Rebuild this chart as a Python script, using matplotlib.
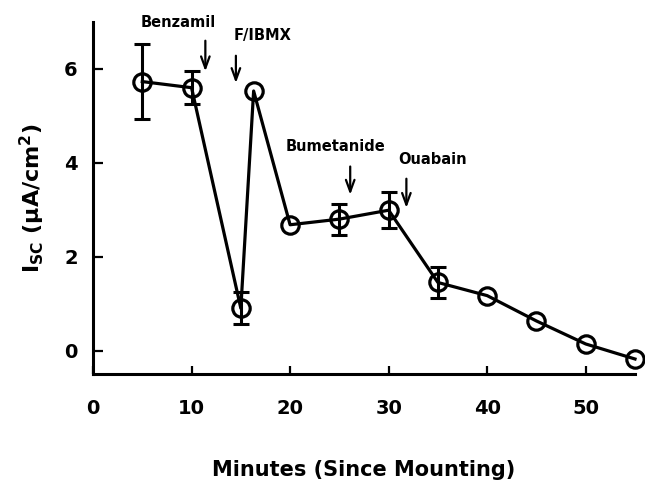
import matplotlib
matplotlib.use("Agg")
import matplotlib.pyplot as plt
import numpy as np

# time since mounting (min) and short circuit current (uA/cm2)
minutes = [5, 10, 15, 16.3, 20, 25, 30, 35, 40, 45, 50, 55]
isc = [5.73, 5.6, 0.9, 5.53, 2.68, 2.8, 2.99, 1.45, 1.17, 0.63, 0.14, -0.18]
isc_err = [0.8, 0.35, 0.34, 0, 0, 0.33, 0.38, 0.32, 0, 0, 0, 0]

# drug additions: label, text position, arrow x, arrow top, arrow tip
drugs = ["Benzamil", "F/IBMX", "Bumetanide", "Ouabain"]
text_x = [8.6, 17.2, 24.6, 34.5]
text_y = [6.98, 6.72, 4.34, 4.06]
arrow_x = [11.4, 14.5, 26.1, 31.8]
arrow_top = [6.66, 6.34, 3.98, 3.72]
arrow_tip = [5.89, 5.64, 3.26, 2.98]

plt.rcParams['font.family'] = 'DejaVu Sans'
plt.rcParams['font.weight'] = 'bold'

fig = plt.figure(figsize=(6.45, 4.8), dpi=100)
ax = fig.add_axes([0.1442, 0.2208, 0.8403, 0.7334])

err = np.array(isc_err)
mask = err > 0
ax.errorbar(np.array(minutes)[mask], np.array(isc)[mask], yerr=err[mask],
            fmt='none', ecolor='black', elinewidth=2.2, capsize=6,
            capthick=2.2, clip_on=False, zorder=2)
ax.plot(minutes, isc, color='black', lw=2.3, marker='o', markersize=12.5,
        markerfacecolor='none', markeredgewidth=2.3, clip_on=False, zorder=3)

for name, tx, ty, axx, a0, a1 in zip(drugs, text_x, text_y, arrow_x, arrow_top, arrow_tip):
    ax.text(tx, ty, name, ha='center', va='center', fontsize=10.5,
            fontweight='heavy')
    ax.annotate('', xy=(axx, a1), xytext=(axx, a0),
                arrowprops=dict(arrowstyle='->, head_width=0.22, head_length=0.6',
                                lw=1.6, color='black', mutation_scale=14))

ax.set_xlim(0, 55)
ax.set_ylim(-0.5, 7)
ax.set_xticks([0, 10, 20, 30, 40, 50])
ax.set_yticks([0, 2, 4, 6])
ax.spines['top'].set_visible(False)
ax.spines['right'].set_visible(False)
for s in ['left', 'bottom']:
    ax.spines[s].set_linewidth(2.2)
ax.tick_params(axis='both', direction='in', width=1.6, labelsize=14)
ax.tick_params(axis='y', length=7, pad=11)
ax.tick_params(axis='x', length=6, pad=18)
for lab in ax.get_xticklabels() + ax.get_yticklabels():
    lab.set_fontweight('heavy')

ax.set_xlabel('Minutes (Since Mounting)', fontsize=15, fontweight='heavy',
              labelpad=30)
ax.set_ylabel(r'I$_{\mathbf{SC}}$ ($\mathbf{\mu}$A/cm$^{\mathbf{2}}$)',
              fontsize=16, fontweight='heavy', labelpad=12)

fig.savefig('out.png', dpi=100)
